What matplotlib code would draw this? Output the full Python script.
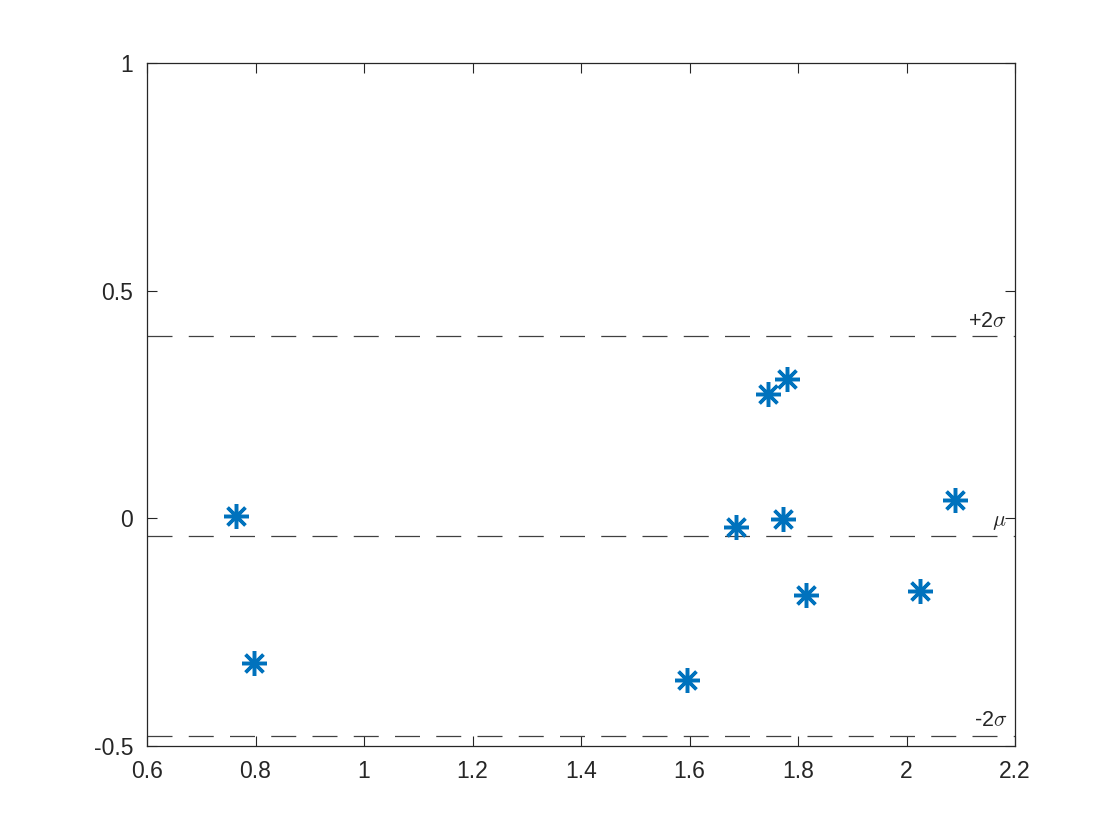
import matplotlib
matplotlib.use("Agg")
import matplotlib.pyplot as plt

x_vals = [0.764, 0.797, 1.595, 1.686, 1.745, 1.780, 1.772, 1.815, 2.025, 2.089]
y_vals = [0.005, -0.318, -0.355, -0.019, 0.273, 0.306, -0.002, -0.168, -0.160, 0.040]
line_levels = [0.400, -0.039, -0.478]
line_labels = [r'+2$\sigma$', r'$\mu$', r'-2$\sigma$']
x_ticks = [0.6, 0.8, 1.0, 1.2, 1.4, 1.6, 1.8, 2.0, 2.2]
x_ticklabels = ['0.6', '0.8', '1', '1.2', '1.4', '1.6', '1.8', '2', '2.2']
y_ticks = [-0.5, 0, 0.5, 1]
y_ticklabels = ['-0.5', '0', '0.5', '1']

plt.rcParams['font.family'] = ['Liberation Sans', 'DejaVu Sans']
plt.rcParams['mathtext.fontset'] = 'cm'

fig = plt.figure(figsize=(11.2, 8.4), dpi=100)
ax = fig.add_axes([0.1313, 0.1119, 0.775, 0.8131])

for lvl, lab in zip(line_levels, line_labels):
    ax.plot([0.6, 2.2], [lvl, lvl], linestyle=(0, (20, 13)), color='#404040', linewidth=0.9)
    ax.text(2.185, lvl + 0.01, lab, ha='right', va='bottom', fontsize=15.5, color='#262626')

ax.plot(x_vals, y_vals, linestyle='none', marker=(8, 2, 0), markersize=18,
        markeredgewidth=2.5, color='#0072BD')

ax.set_xlim(0.6, 2.2)
ax.set_ylim(-0.5, 1)
ax.set_xticks(x_ticks)
ax.set_xticklabels(x_ticklabels)
ax.set_yticks(y_ticks)
ax.set_yticklabels(y_ticklabels)
ax.tick_params(direction='in', length=7, width=0.8, top=True, right=True,
               labelsize=16.5, colors='#262626', pad=10)
for s in ax.spines.values():
    s.set_linewidth(0.9)
    s.set_color('#262626')

fig.savefig('out.png', dpi=100)
